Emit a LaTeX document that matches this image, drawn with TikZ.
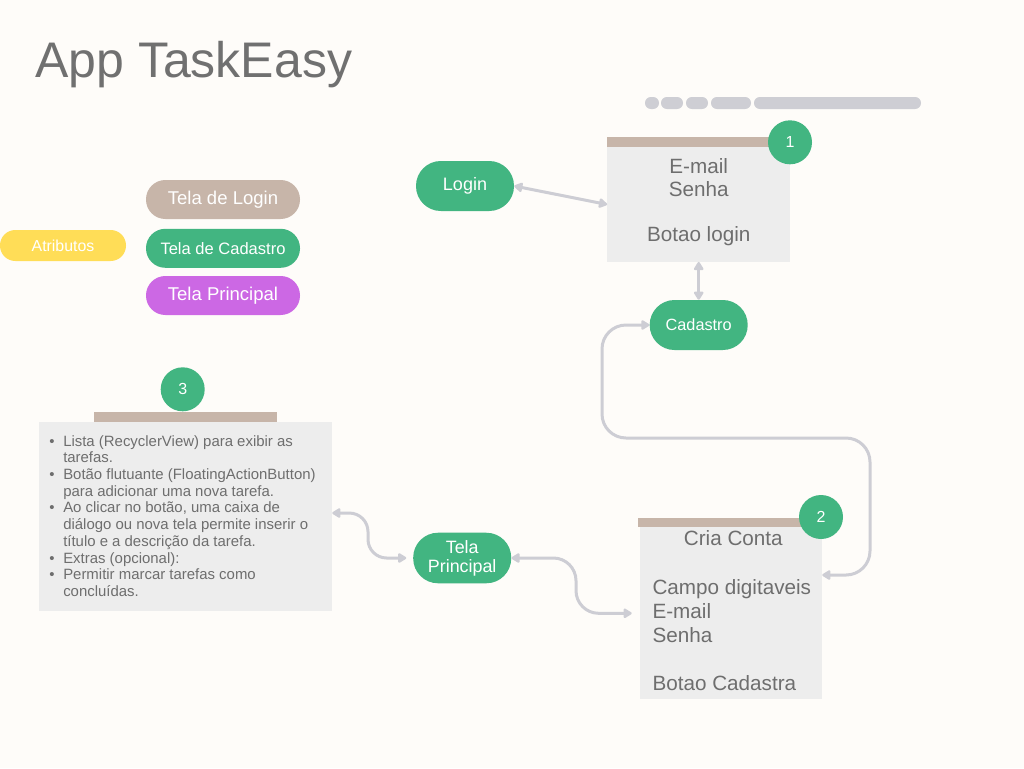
\documentclass[tikz,border=0pt]{standalone}
\usepackage{fontspec}
\setmainfont{Liberation Sans}
\usetikzlibrary{arrows.meta,calc}
\definecolor{bgcol}{RGB}{254,252,249}
\definecolor{grn}{RGB}{66,181,129}
\definecolor{tan}{RGB}{199,181,169}
\definecolor{boxgray}{RGB}{237,237,237}
\definecolor{pillgray}{RGB}{206,206,212}
\definecolor{purp}{RGB}{204,104,228}
\definecolor{yel}{RGB}{255,221,87}
\definecolor{txt}{RGB}{110,110,110}
\definecolor{ttl}{RGB}{112,112,112}
\definecolor{arr}{RGB}{205,205,212}
\newcommand{\fs}[2]{\fontsize{#1}{#2}\selectfont}
\newcommand{\blt}{\makebox[10.5pt][l]{\textbullet}}
\newcommand{\ind}{\hspace*{10.5pt}}
\begin{document}
\begin{tikzpicture}[x=0.75pt,y=-0.75pt,
  pill/.style={rectangle, rounded corners=18.6pt, minimum width=73.5pt, minimum height=37.5pt, fill=grn, text=white, inner sep=0pt},
  legend/.style={rectangle, rounded corners=14.5pt, minimum width=115.5pt, minimum height=29.25pt, text=white, inner sep=0pt, font=\fs{13.9}{16}},
  panel/.style={rectangle, fill=boxgray, inner sep=0pt},
  bar/.style={rectangle, fill=tan, inner sep=0pt},
  badge/.style={circle, fill=grn, minimum size=33pt, inner sep=0pt, text=white, font=\fs{12}{14}},
  boxtext/.style={inner sep=0pt, text=txt, font=\fs{15.5}{18}},
  conn/.style={draw=arr, line width=2.25pt, {Triangle[length=7pt,width=8pt,round]}-{Triangle[length=7pt,width=8pt,round]}}
]
\fill[bgcol] (0,0) rectangle (1024,768);
\useasboundingbox (0,0) rectangle (1024,768);

% title
\node[anchor=base west, inner sep=0pt, text=ttl, font=\fs{37.5}{40}] (title) at (35,77.5) {App TaskEasy};

% top gray pills
\fill[pillgray, rounded corners=4.4pt] (645,97) rectangle (659,109);
\fill[pillgray, rounded corners=4.4pt] (661,97) rectangle (683,109);
\fill[pillgray, rounded corners=4.4pt] (686,97) rectangle (708,109);
\fill[pillgray, rounded corners=4.4pt] (711,97) rectangle (751,109);
\fill[pillgray, rounded corners=4.4pt] (754,97) rectangle (921,109);

% legend
\node[legend, fill=tan] (lglogin) at (223,199.5) {Tela de Login};
\node[legend, fill=grn, font=\fs{12.4}{14}] (lgcad) at (223,248.3) {Tela de Cadastro};
\node[legend, fill=purp] (lgprin) at (223,295.5) {Tela Principal};
\node[rectangle, rounded corners=11.5pt, minimum width=94.5pt, minimum height=23.25pt, fill=yel, text=white, inner sep=0pt, font=\fs{11.9}{14}] (attr) at (63,245.5) {Atributos};

% box 1
\node[bar, minimum width=137pt, minimum height=7.7pt] (bar1) at (698.7,142.2) {};
\node[panel, minimum width=137pt, minimum height=85.8pt] (box1) at (698.7,204.5) {};
\node[badge] (n1) at (790,142.3) {1};
\node[boxtext, anchor=base] (b1a) at (698.7,173.3) {E-mail};
\node[boxtext, anchor=base] (b1b) at (698.7,196.3) {Senha};
\node[boxtext, anchor=base] (b1c) at (698.7,241.7) {Botao login};

% box 2
\node[bar, minimum width=138pt, minimum height=7.2pt] (bar2) at (730.2,522.5) {};
\node[panel, minimum width=136.5pt, minimum height=129pt] (box2) at (731,613.3) {};
\node[badge] (n2) at (821,517) {2};
\node[boxtext, anchor=base] (b2a) at (733.3,545.7) {Cria Conta};
\node[boxtext, anchor=base west] (b2b) at (652.3,594) {Campo digitaveis};
\node[boxtext, anchor=base west] (b2c) at (652.3,618) {E-mail};
\node[boxtext, anchor=base west] (b2d) at (652.3,642) {Senha};
\node[boxtext, anchor=base west] (b2e) at (652.3,690) {Botao Cadastra};

% box 3
\node[bar, minimum width=137.25pt, minimum height=7.95pt] (bar3) at (185.5,417) {};
\node[panel, minimum width=219.75pt, minimum height=141.3pt] (box3) at (185.5,516.5) {};
\node[badge] (n3) at (182.7,389.3) {3};
\node[anchor=base west, inner sep=0pt, text=txt, font=\fs{11.2}{12.56}] (list) at (49,446) {\parbox[t]{225pt}{%
\blt Lista (RecyclerView) para exibir as\\
\ind tarefas.\\
\blt Botão flutuante (FloatingActionButton)\\
\ind para adicionar uma nova tarefa.\\
\blt Ao clicar no botão, uma caixa de\\
\ind diálogo ou nova tela permite inserir o\\
\ind título e a descrição da tarefa.\\
\blt Extras (opcional):\\
\blt Permitir marcar tarefas como\\
\ind concluídas.}};

% flow nodes
\node[pill, font=\fs{13.5}{16}] (login) at (465,186) {Login};
\node[pill, font=\fs{12.2}{14}] (cadastro) at (698.7,325) {Cadastro};
\node[pill, minimum height=37.9pt, align=center, font=\fs{13.4}{14.25}] (tp) at (462.2,558) {Tela\\Principal};

% connectors
\coordinate (b2r) at ($(box2.north east)+(0,48)$);
\coordinate (b3r) at ($(box3.north east)+(0,91)$);
\draw[conn] (login.east) -- (box1.west);
\draw[conn] (box1.south) -- (cadastro.north);
\draw[conn, rounded corners=18pt] (cadastro.west) -| (602,438) -| (870,575) -- (b2r);
\draw[conn, rounded corners=17pt, shorten >=6pt] (tp.east) -| (576,613.3) -- (box2.west);
\draw[conn, rounded corners=14pt, shorten >=5pt] (b3r) -| (368,558) -- (tp.west);
\end{tikzpicture}
\end{document}
